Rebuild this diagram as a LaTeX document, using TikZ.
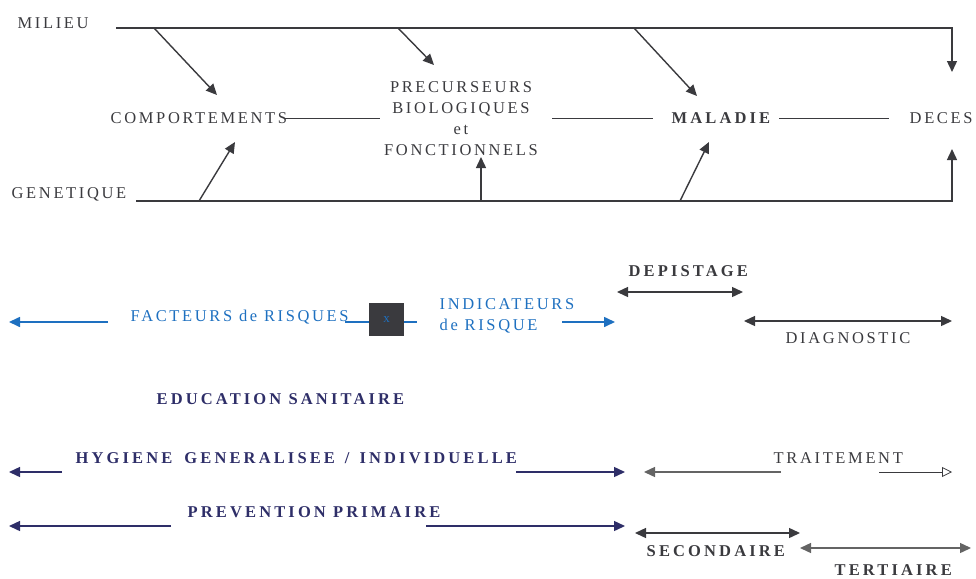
\documentclass[tikz,border=0pt]{standalone}
\usepackage{fontspec}
\setmainfont{Liberation Serif}
\newfontfamily\spaced[LetterSpace=16]{Liberation Serif}
\newfontfamily\spacedbf[LetterSpace=19]{Liberation Serif Bold}
\usetikzlibrary{arrows.meta}
\definecolor{riskblue}{RGB}{30,112,192}
\definecolor{navy}{RGB}{46,46,104}
\definecolor{ink}{RGB}{58,58,62}
\definecolor{soft}{RGB}{100,100,100}
\tikzset{
    tip/.style={-{Triangle[length=11pt,width=10pt]}},
    both/.style={{Triangle[length=11pt,width=10pt]}-{Triangle[length=11pt,width=10pt]}},
    opentip/.style={-{Triangle[open,length=10pt,width=10pt]}, line width=0.8pt},
    bold/.style={font=\fontsize{16.5}{21}\spacedbf},
}
\begin{document}
\begin{tikzpicture}[x=1pt, y=-1pt, line width=1.4pt]
\useasboundingbox (0,0) rectangle (976,578);
\begin{scope}[every node/.style={anchor=west, inner sep=0pt, text height=11pt, text depth=0pt, font=\fontsize{16.5}{21}\spaced, text=ink}]
    \node (milieu) at (17,23) {MILIEU};
    \node (comp) at (110,118) {COMPORTEMENTS};
    \node[anchor=center, align=center, text height=, text depth=] (precurs) at (461,119) {PRECURSEURS\\BIOLOGIQUES\\et\\FONCTIONNELS};
    \node[bold] (maladie) at (671,118) {MALADIE};
    \node (deces) at (909,118) {DECES};
    \node (genet) at (11,193) {GENETIQUE};
    \node[text=riskblue] (facteurs) at (130,316) {FACTEURS de RISQUES};
    \node[align=left, text=riskblue, text height=, text depth=] (indic) at (439,316) {INDICATEURS\\de RISQUE};
    \node[bold] (depist) at (628,271) {DEPISTAGE};
    \node (diagn) at (785,338) {DIAGNOSTIC};
    \node[bold, text=navy] (educ) at (156,399) {EDUCATION SANITAIRE};
    \node[bold, text=navy] (hyg) at (75,458) {HYGIENE\hspace{12pt}GENERALISEE \,/\, INDIVIDUELLE};
    \node (trait) at (773,458) {TRAITEMENT};
    \node[bold, text=navy] (prev) at (187,512) {PREVENTION PRIMAIRE};
    \node[bold] (second) at (646,551) {SECONDAIRE};
    \node[bold] (tert) at (834,570) {TERTIAIRE};
\end{scope}
% line ends
\coordinate (m0) at (116,28);
\coordinate (g0) at (136,201);
\coordinate (dtop) at (952,72);
\coordinate (dbot) at (952,149);
\begin{scope}[draw=ink]
    \draw[tip] (m0) -| (dtop);
    \draw[tip] (g0) -| (dbot);
    \draw[tip] (154,28) -- (217,95);
    \draw[tip] (398,28) -- (434,65);
    \draw[tip] (634,28) -- (697,96);
    \draw[tip] (199,201) -- (235,142);
    \draw[tip] (481,201) -- (481,157);
    \draw[tip] (680,201) -- (709,142);
    \draw[line width=1pt] (285,118) -- (380,118);
    \draw[line width=1pt] (552,118) -- (653,118);
    \draw[line width=1pt] (779,118) -- (889,118);
\end{scope}
% risques
\begin{scope}[draw=riskblue, line width=1.6pt]
    \draw[tip] (108,322) -- (9,322);
    \draw (345,322) -- (417,322);
    \draw[tip] (562,322) -- (615,322);
\end{scope}
\node[fill=ink, minimum width=35pt, minimum height=33pt, inner sep=0pt, text=riskblue, font=\fontsize{13}{15}\selectfont] (xbox) at (386.5,319.5) {x};
% depistage
\draw[both, ink] (617,292) -- (743,292);
\draw[both, ink] (744,321) -- (952,321);
% prevention
\begin{scope}[draw=navy]
    \draw[tip] (62,472) -- (9,472);
    \draw[tip] (516,472) -- (625,472);
    \draw[tip] (171,526) -- (9,526);
    \draw[tip] (426,526) -- (625,526);
\end{scope}
\draw[tip, soft] (781,472) -- (644,472);
\draw[opentip, ink] (879,472) -- (952,472);
\draw[both, ink] (635,533) -- (800,533);
\draw[both, soft] (800,548) -- (971,548);
\end{tikzpicture}
\end{document}
